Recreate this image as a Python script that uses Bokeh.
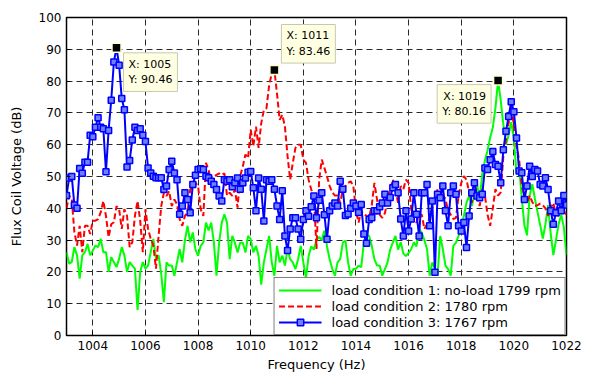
import numpy as np
from bokeh.plotting import figure
from bokeh.models import Label, FixedTicker, Range1d
from bokeh.embed import file_html
from bokeh.resources import INLINE

# Spectrum bins, 0.1 Hz apart, 1003.0 ... 1022.0 Hz
freq = np.round(np.arange(1003.0, 1022.05, 0.1), 1)

# Load condition 1: no-load, 1799 rpm
cond1 = [
    26.2, 22.6, 23.1, 27.8, 25.2, 17.9, 25.2, 26.2, 28.8, 25.2,
    26.7, 28.3, 27.8, 30.4, 26.2, 26.2, 20.0, 24.6, 23.1, 21.5,
    24.1, 27.8, 25.2, 20.0, 23.1, 22.0, 21.0, 8.0, 20.0, 23.1,
    21.0, 22.0, 26.2, 30.4, 24.1, 25.2, 19.4, 10.5, 23.0, 22.0,
    22.0, 18.8, 23.0, 27.2, 23.0, 30.0, 34.5, 29.3, 32.4, 27.0,
    25.1, 28.2, 29.3, 35.5, 33.0, 35.5, 29.3, 18.8, 29.3, 35.5,
    38.1, 35.5, 24.0, 31.3, 29.2, 26.1, 29.2, 29.2, 26.1, 31.3,
    30.3, 26.1, 28.2, 25.0, 16.0, 23.0, 27.2, 31.3, 23.0, 18.8,
    28.2, 23.0, 25.1, 22.0, 27.2, 24.0, 23.0, 20.9, 24.0, 28.2,
    23.0, 18.0, 25.0, 28.0, 27.0, 30.0, 31.0, 30.0, 33.0, 28.0,
    24.0, 20.9, 18.8, 23.0, 24.0, 29.2, 29.8, 23.0, 18.8, 20.9,
    21.0, 22.0, 21.5, 29.2, 31.9, 31.3, 28.2, 24.0, 22.0, 22.0,
    18.8, 20.9, 23.0, 27.0, 29.2, 31.3, 27.0, 29.3, 25.8, 25.0,
    26.0, 27.2, 29.3, 28.0, 33.4, 32.4, 30.0, 27.2, 18.8, 23.0,
    21.0, 18.8, 31.3, 27.2, 22.0, 20.9, 18.8, 28.2, 29.2, 31.4,
    34.0, 37.6, 41.8, 43.9, 40.7, 44.0, 47.7, 42.7, 50.9, 55.0,
    58.2, 62.3, 65.4, 71.6, 80.16, 74.0, 66.3, 60.0, 63.0, 67.1,
    62.0, 51.0, 53.0, 43.1, 34.7, 31.5, 44.0, 47.6, 43.0, 38.8,
    34.7, 30.5, 35.0, 41.0, 32.0, 25.3, 30.0, 35.0, 38.0, 34.0,
    25.3,
]

# Load condition 2: 1780 rpm
cond2 = [
    40.0, 44.0, 43.0, 32.5, 28.3, 34.5, 26.2, 34.5, 34.5, 31.9,
    36.1, 36.1, 36.6, 38.7, 42.3, 37.6, 30.9, 35.0, 35.6, 40.7,
    39.7, 33.5, 39.7, 37.6, 27.8, 29.3, 37.6, 42.3, 36.1, 26.2,
    39.7, 33.5, 30.4, 28.3, 21.0, 31.4, 40.7, 44.9, 43.9, 45.4,
    40.7, 42.8, 41.3, 36.6, 34.5, 37.6, 38.7, 45.9, 47.0, 48.0,
    47.0, 39.7, 37.6, 54.3, 52.0, 48.5, 50.0, 50.5, 51.0, 50.5,
    51.0, 44.0, 44.9, 43.9, 45.9, 40.2, 50.1, 53.2, 56.9, 55.8,
    64.7, 59.5, 65.7, 59.0, 66.8, 70.9, 71.5, 78.7, 82.4, 83.46,
    76.0, 67.8, 69.4, 65.7, 56.4, 49.0, 54.3, 59.0, 60.0, 60.0,
    55.3, 54.3, 49.0, 45.9, 43.9, 27.2, 49.0, 55.3, 52.7, 50.0,
    47.0, 45.0, 44.0, 44.0, 41.7, 45.9, 47.0, 48.0, 48.5, 47.0,
    39.2, 35.5, 39.2, 38.0, 37.7, 37.0, 41.0, 48.0, 42.8, 38.0,
    37.0, 38.5, 42.8, 46.0, 49.0, 45.9, 41.7, 47.0, 46.0, 49.0,
    48.0, 39.7, 36.6, 35.5, 38.1, 38.0, 33.5, 35.0, 37.0, 40.2,
    43.0, 45.9, 47.0, 44.0, 43.0, 39.2, 38.0, 36.6, 37.0, 44.0,
    48.0, 50.1, 49.0, 45.0, 41.7, 48.0, 43.9, 40.7, 46.0, 44.0,
    38.0, 34.5, 40.0, 46.0, 44.0, 45.0, 56.3, 61.6, 66.8, 73.0,
    65.7, 59.5, 55.3, 47.0, 44.0, 41.7, 44.0, 42.0, 40.7, 41.0,
    41.5, 41.0, 40.0, 37.6, 40.0, 41.7, 38.0, 37.6, 40.0, 39.2,
    38.0,
]

# Load condition 3: 1767 rpm
cond3 = [
    44.0, 49.5, 50.0, 41.0, 40.0, 52.5, 51.0, 54.5, 54.5, 63.0,
    62.5, 65.5, 68.5, 65.5, 65.0, 51.5, 64.5, 74.0, 86.0, 90.46,
    85.0, 74.5, 71.0, 53.0, 55.0, 61.5, 65.5, 64.5, 65.0, 63.0,
    61.0, 52.7, 51.1, 50.1, 49.6, 49.6, 49.6, 45.9, 47.0, 52.2,
    54.8, 51.1, 49.0, 38.1, 40.7, 44.9, 42.8, 38.6, 47.5, 50.4,
    52.2, 52.4, 52.2, 50.1, 49.6, 48.5, 47.5, 45.9, 43.9, 42.3,
    49.0, 48.5, 49.0, 46.8, 48.0, 49.5, 46.0, 48.0, 49.5, 51.3,
    51.6, 46.5, 39.2, 49.5, 46.0, 36.0, 49.0, 48.5, 49.0, 46.0,
    40.7, 36.5, 45.5, 31.3, 26.7, 33.5, 37.0, 37.0, 33.5, 30.3,
    36.5, 39.2, 37.5, 40.5, 43.9, 37.0, 42.5, 44.9, 38.0, 30.3,
    39.2, 40.7, 41.7, 40.7, 48.5, 46.0, 37.7, 38.2, 40.0, 41.7,
    40.7, 38.7, 41.2, 31.9, 29.0, 36.5, 37.0, 39.2, 39.2, 40.5,
    41.7, 44.4, 41.7, 43.4, 46.5, 47.5, 44.9, 36.6, 31.3, 39.2,
    32.9, 36.6, 44.9, 38.1, 31.3, 44.9, 44.9, 47.5, 34.5, 42.3,
    19.9, 44.4, 43.3, 47.0, 39.2, 34.5, 44.9, 47.0, 44.4, 34.5,
    32.9, 35.5, 27.7, 37.6, 44.9, 48.0, 43.9, 43.3, 44.4, 52.7,
    52.2, 55.3, 57.9, 53.8, 53.2, 48.0, 58.4, 64.2, 68.9, 73.5,
    70.4, 62.1, 51.7, 51.2, 42.8, 47.0, 53.2, 50.0, 52.2, 51.7,
    47.5, 47.0, 49.6, 45.9, 39.2, 35.0, 38.6, 42.3, 39.2, 44.0,
    41.0,
]

series_labels = [
    "load condition 1: no-load 1799 rpm",
    "load condition 2: 1780 rpm",
    "load condition 3: 1767 rpm",
]
x_ticks = [1004, 1006, 1008, 1010, 1012, 1014, 1016, 1018, 1020, 1022]
y_ticks = [0, 10, 20, 30, 40, 50, 60, 70, 80, 90, 100]

FONT = "DejaVu Sans"

p = figure(
    width=593, height=374,
    output_backend="svg", toolbar_location=None,
    x_range=Range1d(1003, 1022), y_range=Range1d(0, 100),
    min_border_left=66, min_border_right=27,
    min_border_top=17, min_border_bottom=37,
    background_fill_color="white", border_fill_color="white",
)

p.outline_line_color = "black"
p.outline_line_width = 1.5
p.outline_line_alpha = 1.0

for axis in (p.xaxis[0], p.yaxis[0]):
    axis.axis_line_color = None
    axis.major_tick_in = 4
    axis.major_tick_out = 0
    axis.minor_tick_in = 0
    axis.minor_tick_out = 0
    axis.major_tick_line_color = "black"
    axis.major_label_text_font = FONT
    axis.major_label_text_font_size = "12px"
    axis.major_label_text_color = "black"
    axis.axis_label_text_font = FONT
    axis.axis_label_text_font_size = "13px"
    axis.axis_label_text_font_style = "normal"
    axis.axis_label_text_color = "black"
    axis.major_label_standoff = 5

p.xaxis.ticker = FixedTicker(ticks=x_ticks)
p.yaxis.ticker = FixedTicker(ticks=y_ticks)
p.xaxis.axis_label = "Frequency (Hz)"
p.yaxis.axis_label = "Flux Coil Voltage (dB)"
p.xaxis.axis_label_standoff = 4
p.yaxis.axis_label_standoff = 12

for g in (p.xgrid[0], p.ygrid[0]):
    g.grid_line_color = "#2a2a2a"
    g.grid_line_dash = "6 4"
    g.grid_line_width = 1
    g.grid_line_alpha = 1.0

p.line(freq, cond1, color="#00ff00", line_width=2, legend_label=series_labels[0])
p.line(freq, cond2, color="#ff0000", line_width=2, line_dash="6 3",
       legend_label=series_labels[1])
p.line(freq, cond3, color="#0000ff", line_width=2, legend_label=series_labels[2])
p.scatter(freq, cond3, marker="square", size=6, line_color="#0000ff",
          fill_color="#6f80ff", line_width=1.5, legend_label=series_labels[2])

# data tips on each spectrum peak
tip_offsets = [
    (cond3, 7, -5, "left", "top"),
    (cond2, 7, 7, "left", "bottom"),
    (cond1, -7, -4, "right", "top"),
]
for values, dx, dy, align, baseline in tip_offsets:
    arr = np.asarray(values)
    idx = int(np.argmax(arr))
    px, py = float(freq[idx]), float(arr[idx])
    p.scatter([px], [py], marker="square", size=9, fill_color="black",
              line_color="#ffffd2", line_width=1.5)
    p.add_layout(Label(
        x=px, y=py, x_offset=dx, y_offset=dy,
        text=f"X: {px:.4g}\nY: {py:.2f}",
        text_font=FONT, text_font_size="11px", text_color="black",
        text_align=align, text_baseline=baseline,
        background_fill_color="#ffffe1", background_fill_alpha=1.0,
        border_line_color="#c8c8b0", border_line_width=1,
        padding=5,
    ))

lg = p.legend[0]
lg.location = "bottom_right"
lg.margin = 0
lg.padding = 4
lg.spacing = 0
lg.label_height = 16
lg.glyph_height = 16
lg.glyph_width = 43
lg.label_standoff = 10
lg.label_text_font = FONT
lg.label_text_font_size = "13px"
lg.label_text_color = "black"
lg.border_line_color = "black"
lg.border_line_width = 1
lg.background_fill_color = "white"
lg.background_fill_alpha = 1.0

open("out.html", "w").write(file_html(p, INLINE))
